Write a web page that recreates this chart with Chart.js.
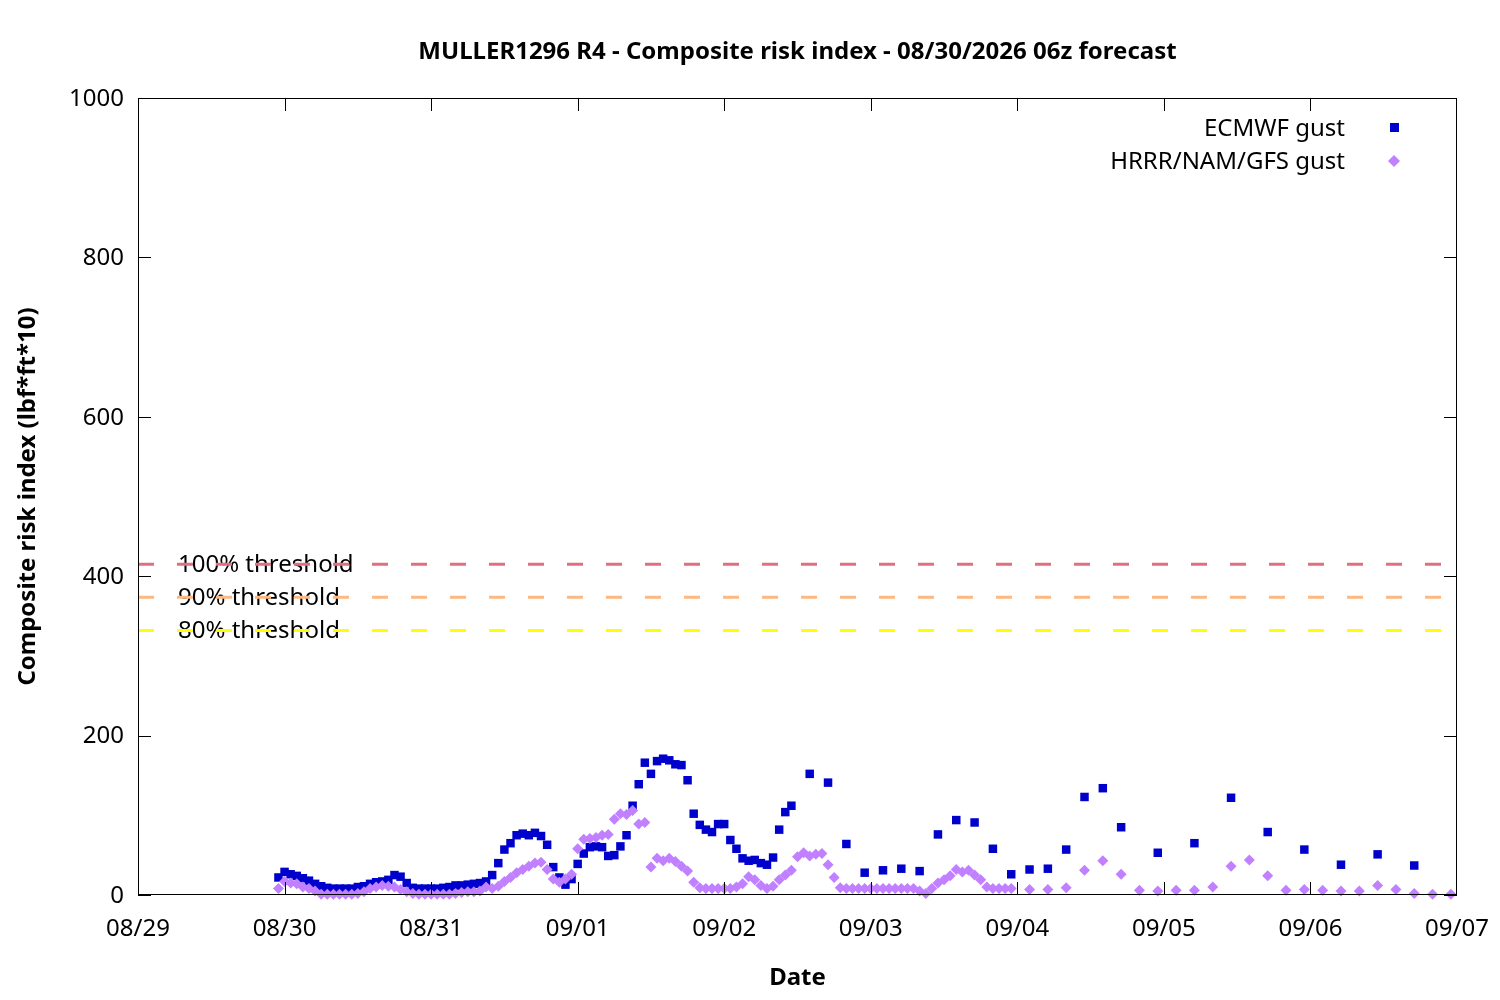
<!DOCTYPE html>
<html>
<head>
<meta charset="utf-8">
<title>MULLER1296 R4 - Composite risk index</title>
<script src="https://cdn.jsdelivr.net/npm/chart.js@4.4.1/dist/chart.umd.min.js"></script>
<style>
  html, body { margin: 0; padding: 0; background: #ffffff; }
  #chart { display: block; }
</style>
</head>
<body>
<canvas id="chart" width="1500" height="1000"></canvas>
<script>
// Hours counted from 08/29 00:00
const tickLabels = ['08/29', '08/30', '08/31', '09/01', '09/02', '09/03', '09/04', '09/05', '09/06', '09/07'];

const ecmwfHours = [
    23, 24, 25, 26, 27, 28, 29, 30, 31, 32,
    33, 34, 35, 36, 37, 38, 39, 40, 41, 42,
    43, 44, 45, 46, 47, 48, 49, 50, 51, 52,
    53, 54, 55, 56, 57, 58, 59, 60, 61, 62,
    63, 64, 65, 66, 67, 68, 69, 70, 71, 72,
    73, 74, 75, 76, 77, 78, 79, 80, 81, 82,
    83, 84, 85, 86, 87, 88, 89, 90, 91, 92,
    93, 94, 95, 96, 97, 98, 99, 100, 101, 102,
    103, 104, 105, 106, 107,
    110, 113, 116, 119, 122, 125, 128, 131, 134, 137, 140, 143, 146, 149, 152, 155, 158, 161,
    167, 173, 179, 185, 191, 197, 203, 209
];
const ecmwfGust = [
    22, 29, 26, 24, 21, 18, 14, 11, 9, 8,
    8, 8, 8, 10, 11, 14, 16, 17, 19, 25,
    23, 15, 9, 8, 8, 8, 8, 9, 10, 12,
    12, 13, 14, 15, 17, 25, 40, 57, 65, 75,
    77, 75, 78, 74, 63, 35, 22, 13, 20, 39,
    52, 60, 61, 60, 49, 50, 61, 75, 112, 139,
    166, 152, 168, 171, 169, 164, 163, 144, 102, 88,
    82, 79, 89, 89, 69, 58, 46, 43, 44, 40,
    38, 47, 82, 104, 112,
    152, 141, 64, 28, 31, 33, 30, 76, 94, 91, 58, 26, 32, 33, 57, 123, 134, 85,
    53, 65, 122, 79, 57, 38, 51, 37
];

const hrrrHours = [
    23, 24, 25, 26, 27, 28, 29, 30, 31, 32,
    33, 34, 35, 36, 37, 38, 39, 40, 41, 42,
    43, 44, 45, 46, 47, 48, 49, 50, 51, 52,
    53, 54, 55, 56, 57, 58, 59, 60, 61, 62,
    63, 64, 65, 66, 67, 68, 69, 70, 71, 72,
    73, 74, 75, 76, 77, 78, 79, 80, 81, 82,
    83, 84, 85, 86, 87, 88, 89, 90, 91, 92,
    93, 94, 95, 96, 97, 98, 99, 100, 101, 102,
    103, 104, 105, 106, 107, 108, 109, 110, 111, 112,
    113, 114, 115, 116, 117, 118, 119, 120, 121, 122,
    123, 124, 125, 126, 127, 128, 129, 130, 131, 132,
    133, 134, 135, 136, 137, 138, 139, 140, 141, 142,
    143,
    146, 149, 152, 155, 158, 161, 164, 167, 170, 173, 176, 179,
    182, 185, 188, 191, 194, 197, 200, 203, 206, 209, 212, 215
];
const hrrrGust = [
    8, 17, 15, 14, 10, 8, 5, 1, 1, 1,
    1, 1, 1, 2, 4, 8, 10, 12, 11, 10,
    7, 4, 2, 1, 1, 1, 1, 1, 1, 2,
    3, 4, 4, 5, 10, 8, 11, 17, 22, 28,
    32, 36, 40, 41, 32, 20, 16, 20, 26, 58,
    70, 71, 72, 75, 76, 95, 102, 101, 106, 89,
    91, 35, 46, 43, 46, 42, 36, 30, 16, 9,
    8, 8, 8, 8, 8, 10, 14, 23, 19, 12,
    8, 11, 19, 25, 31, 48, 53, 49, 51, 52,
    38, 22, 9, 8, 8, 8, 8, 8, 8, 8,
    8, 8, 8, 8, 8, 5, 2, 8, 15, 19,
    24, 32, 29, 31, 25, 19, 10, 8, 8, 8,
    8,
    7, 7, 9, 31, 43, 26, 6, 5, 6, 6, 10, 36,
    44, 24, 6, 7, 6, 5, 5, 12, 7, 2, 1, 1
];

const thresholdNames = ['100% threshold', '90% threshold', '80% threshold'];
const thresholdValues = [415, 373.5, 332];
const thresholdColors = ['#e0707f', '#ffb880', '#ffff00'];

const FONT = '"Noto Sans", "Open Sans", sans-serif';
const X_MIN = 0, X_MAX = 216;

function toPoints(xs, ys) {
    return xs.map((x, i) => ({ x: x, y: ys[i] }));
}

const datasets = [
    {
        label: 'HRRR/NAM/GFS gust',
        data: toPoints(hrrrHours, hrrrGust),
        pointStyle: 'rectRot',
        pointRadius: 5.5,
        pointBackgroundColor: '#c080ff',
        pointBorderWidth: 0,
        showLine: false,
        clip: false,
        order: 0
    },
    {
        label: 'ECMWF gust',
        data: toPoints(ecmwfHours, ecmwfGust),
        pointStyle: 'rect',
        pointRadius: 6,
        pointBackgroundColor: '#0000cc',
        pointBorderWidth: 0,
        showLine: false,
        clip: false,
        order: 1
    }
];

thresholdValues.forEach((v, i) => {
    datasets.push({
        type: 'line',
        label: thresholdNames[i],
        data: [{ x: X_MIN, y: v }, { x: X_MAX, y: v }],
        borderColor: thresholdColors[i],
        borderWidth: 3,
        borderDash: [16, 23],
        pointRadius: 0,
        fill: false,
        order: 2
    });
});

// gnuplot-like frame, inward ticks, titles, labels and key
const gnuplotFrame = {
    id: 'gnuplotFrame',
    beforeDatasetsDraw(chart) {
        const ctx = chart.ctx;
        const y = chart.scales.y;
        ctx.save();
        ctx.fillStyle = '#000';
        ctx.font = '24px ' + FONT;
        ctx.textAlign = 'left';
        ctx.textBaseline = 'middle';
        thresholdValues.forEach((v, i) => {
            ctx.fillText(thresholdNames[i], 178, y.getPixelForValue(v) + 1);
        });
        ctx.restore();
    },
    afterDraw(chart) {
        const ctx = chart.ctx;
        const a = chart.chartArea;
        const xs = chart.scales.x;
        const ys = chart.scales.y;
        const tick = 13;
        ctx.save();
        ctx.strokeStyle = '#000';
        ctx.lineWidth = 1;
        ctx.strokeRect(a.left + 0.5, a.top + 0.5, a.right - a.left - 1, a.bottom - a.top - 1);
        ctx.beginPath();
        xs.ticks.forEach(t => {
            const px = Math.min(Math.round(xs.getPixelForValue(t.value)), a.right - 1) + 0.5;
            ctx.moveTo(px, a.bottom); ctx.lineTo(px, a.bottom - tick);
            ctx.moveTo(px, a.top); ctx.lineTo(px, a.top + tick);
        });
        ys.ticks.forEach(t => {
            const py = Math.round(ys.getPixelForValue(t.value)) + 0.5;
            ctx.moveTo(a.left, py); ctx.lineTo(a.left + tick, py);
            ctx.moveTo(a.right, py); ctx.lineTo(a.right - tick, py);
        });
        ctx.stroke();

        const cx = (a.left + a.right) / 2;
        ctx.fillStyle = '#000';
        ctx.textAlign = 'center';
        ctx.textBaseline = 'middle';
        ctx.font = 'bold 24px ' + FONT;
        ctx.fillText('MULLER1296 R4 - Composite risk index - 08/30/2026 06z forecast', cx, 52);
        ctx.fillText('Date', cx, 978);
        ctx.save();
        ctx.translate(28, (a.top + a.bottom) / 2);
        ctx.rotate(-Math.PI / 2);
        ctx.fillText('Composite risk index (lbf*ft*10)', 0, 0);
        ctx.restore();

        // key
        ctx.font = '24px ' + FONT;
        ctx.textAlign = 'right';
        const keyItems = [chart.data.datasets[1], chart.data.datasets[0]];
        keyItems.forEach((ds, i) => {
            const ky = 128 + i * 33;
            ctx.fillStyle = '#000';
            ctx.fillText(ds.label, 1345, ky + 1);
            ctx.fillStyle = ds.pointBackgroundColor;
            ctx.beginPath();
            if (ds.pointStyle === 'rect') {
                ctx.rect(1390, ky - 5, 9, 9);
            } else {
                ctx.moveTo(1394, ky - 6);
                ctx.lineTo(1400, ky);
                ctx.lineTo(1394, ky + 6);
                ctx.lineTo(1388, ky);
                ctx.closePath();
            }
            ctx.fill();
        });
        ctx.restore();
    }
};

function drawChart() {
    new Chart(document.getElementById('chart'), {
        type: 'scatter',
        data: { datasets: datasets },
        options: {
            responsive: false,
            animation: false,
            devicePixelRatio: 1,
            layout: { padding: { top: 98, right: 43, left: 0, bottom: 0 } },
            plugins: {
                legend: { display: false },
                title: { display: false },
                tooltip: { enabled: false }
            },
            scales: {
                x: {
                    type: 'linear',
                    min: X_MIN,
                    max: X_MAX,
                    grid: { display: false, drawTicks: false },
                    border: { display: false },
                    afterFit: s => {
                        s.height = 105;
                        s.paddingLeft = 0;
                        s.paddingRight = 0;
                    },
                    ticks: {
                        stepSize: 24,
                        padding: 20,
                        color: '#000',
                        font: { family: FONT, size: 24 },
                        maxRotation: 0,
                        callback: v => tickLabels[v / 24]
                    }
                },
                y: {
                    min: 0,
                    max: 1000,
                    grid: { display: false, drawTicks: false },
                    border: { display: false },
                    afterFit: s => {
                        s.width = 138;
                        s.paddingTop = 0;
                        s.paddingBottom = 0;
                    },
                    ticks: {
                        stepSize: 200,
                        padding: 14,
                        labelOffset: 1,
                        color: '#000',
                        font: { family: FONT, size: 24 },
                        callback: v => String(v)
                    }
                }
            }
        },
        plugins: [gnuplotFrame]
    });
}

document.addEventListener('DOMContentLoaded', drawChart);
</script>
</body>
</html>
